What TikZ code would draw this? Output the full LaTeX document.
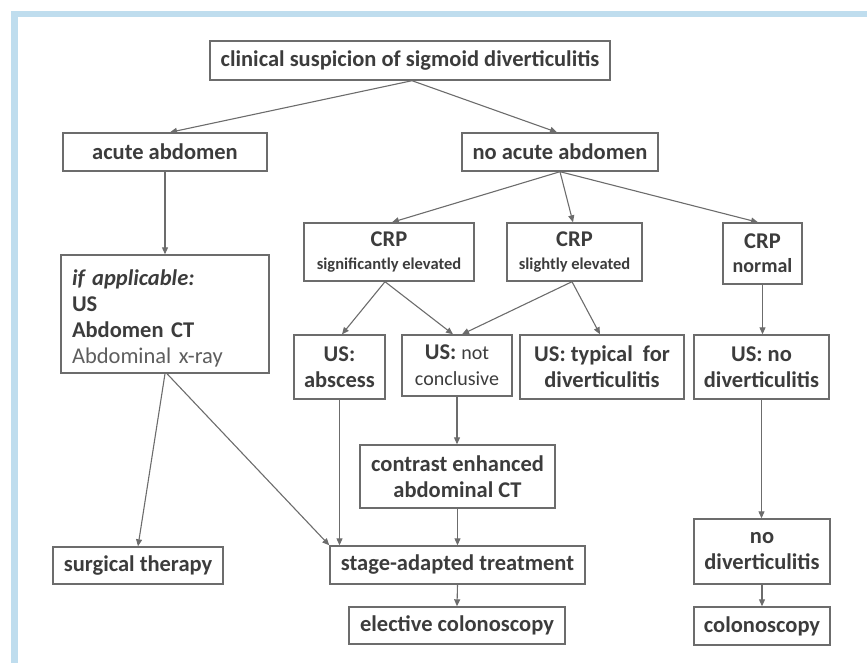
\documentclass[tikz,border=0pt]{standalone}
\usepackage{fontspec}
\setmainfont{Carlito}
\usetikzlibrary{arrows.meta,calc}
\definecolor{band}{HTML}{BFDDEE}
\definecolor{txt}{HTML}{3C3C3C}
\definecolor{lighttxt}{HTML}{5E5E5E}
\definecolor{edge}{HTML}{6C6C6C}
\begin{document}
\begin{tikzpicture}[x=1pt,y=-1pt,
  box/.style={draw=edge, line width=1.4pt, text=txt, font=\fontsize{22.5}{26}\selectfont\bfseries, align=center, inner sep=0pt, anchor=center},
  arr/.style={draw=edge, line width=1.1pt, -{Triangle[length=7pt,width=6pt]}}]
\useasboundingbox (0,0) rectangle (867,663);
\fill[band] (11,11) rectangle (867,17);
\fill[band] (11,11) rectangle (18,663);

\node[box, minimum width=400pt, minimum height=39pt] (top) at (410,60.5) {clinical suspicion of sigmoid diverticulitis};
\node[box, minimum width=204pt, minimum height=38pt] (acute) at (165,152) {acute abdomen};
\node[box, minimum width=196pt, minimum height=38pt] (noacute) at (560,152) {no acute abdomen};
\node[box, minimum width=170pt, minimum height=58pt] (crp1) at (389,252) {CRP\\[-3pt]{\fontsize{16.5}{20}\selectfont significantly elevated}};
\node[box, minimum width=135pt, minimum height=58pt] (crp2) at (574.5,252) {CRP\\[-3pt]{\fontsize{16.5}{20}\selectfont slightly elevated}};
\node[box, minimum width=79pt, minimum height=61pt] (crp3) at (762.5,253.5) {CRP\\[-2pt]{\fontsize{20}{24}\selectfont normal}};
\node[box, minimum width=208pt, minimum height=118pt, text width=186pt, align=left] (ifapp) at (165,314) {\rule{0pt}{25pt}{\itshape if applicable:}\\US\\Abdomen CT\\{\mdseries\color{lighttxt}Abdominal x-ray}};
\node[box, minimum width=91pt, minimum height=64pt] (usabs) at (339.5,367) {US:\\abscess};
\node[box, minimum width=110pt, minimum height=61pt] (usnc) at (457,365.5) {US: {\mdseries\fontsize{20}{26}\selectfont not}\\{\mdseries\fontsize{20}{26}\selectfont conclusive}};
\node[box, minimum width=164pt, minimum height=64pt] (ustyp) at (602,367) {US: typical~ for\\diverticulitis};
\node[box, minimum width=135pt, minimum height=64pt] (usno) at (761.5,367) {US: no\\diverticulitis};
\node[box, minimum width=195pt, minimum height=63pt] (ct) at (457.5,476.5) {contrast enhanced\\abdominal CT};
\node[box, minimum width=170pt, minimum height=37pt] (surg) at (138,565.5) {surgical therapy};
\node[box, minimum width=255pt, minimum height=38pt] (stage) at (457.5,565) {stage-adapted treatment};
\node[box, minimum width=216pt, minimum height=37pt] (elect) at (457,625.5) {elective colonoscopy};
\node[box, minimum width=136pt, minimum height=65pt] (nodiv) at (762,551.5) {no\\diverticulitis};
\node[box, minimum width=136pt, minimum height=38pt] (colo) at (762,626) {colonoscopy};

\draw[arr] ([xshift=2pt]top.south) -- ([xshift=5pt]acute.north);
\draw[arr] ([xshift=2pt]top.south) -- ([xshift=-3pt]noacute.north);
\draw[arr] (acute.south) -- (ifapp.north);
\draw[arr] (noacute.south) -- ([xshift=3pt]crp1.north);
\draw[arr] (noacute.south) -- ([xshift=-1.5pt]crp2.north);
\draw[arr] (noacute.south) -- ([xshift=-4.5pt]crp3.north);
\draw[arr] ([xshift=-4pt]crp1.south) -- ([xshift=2.5pt]usabs.north);
\draw[arr] ([xshift=-4pt]crp1.south) -- ([xshift=-4pt]usnc.north);
\draw[arr] ([xshift=-2.5pt]crp2.south) -- ([xshift=5pt]usnc.north);
\draw[arr] ([xshift=-2.5pt]crp2.south) -- ([xshift=-2pt]ustyp.north);
\draw[arr] (crp3.south) -- (crp3.south |- usno.north);
\draw[arr] (ifapp.south) -- (surg.north);
\draw[arr] ([xshift=2pt]ifapp.south) -- (stage.north west);
\draw[arr] (usabs.south) -- (usabs.south |- stage.north);
\draw[arr] (usnc.south) -- (usnc.south |- ct.north);
\draw[arr] (ct.south) -- (stage.north);
\draw[arr] (stage.south) -- (elect.north);
\draw[arr] (usno.south) -- (usno.south |- nodiv.north);
\draw[arr] (nodiv.south) -- (colo.north);
\end{tikzpicture}
\end{document}
